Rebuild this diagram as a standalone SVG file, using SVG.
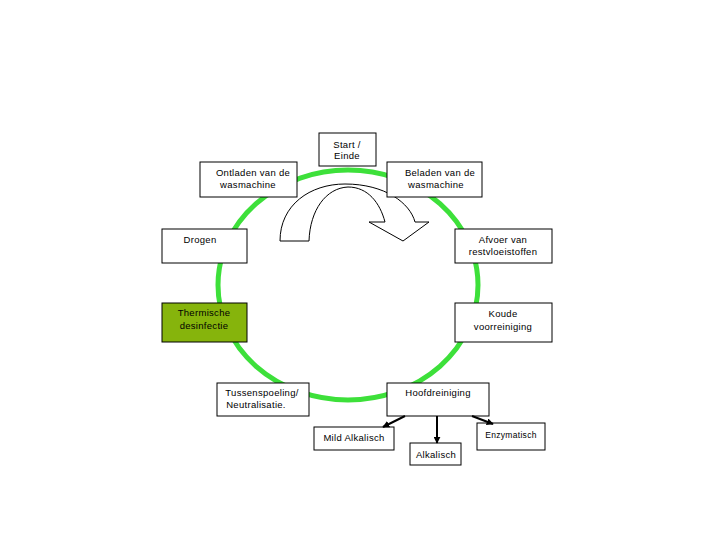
<svg xmlns="http://www.w3.org/2000/svg" width="720" height="540" viewBox="0 0 720 540">
<defs>
<style>
.box{fill:#fff;stroke:#000;stroke-width:1}
.g{fill:#86b40c}
text{font-family:"Liberation Sans",Arial,sans-serif;font-size:9.5px;fill:#000;text-anchor:middle;letter-spacing:0.3px}
.conn{stroke:#000;stroke-width:2;fill:none;marker-end:url(#ah)}
</style>
<marker id="ah" viewBox="0 0 10 10" refX="9" refY="5" markerWidth="3.5" markerHeight="3.5" orient="auto" markerUnits="strokeWidth">
<path d="M0,0 L10,5 L0,10 Z" fill="#000"/>
</marker>
</defs>
<rect width="720" height="540" fill="#fff"/>
<ellipse id="cycle" cx="348" cy="285" rx="130" ry="115" fill="none" stroke="#3de03a" stroke-width="5"/>
<g id="turn-arrow">
<path d="M280,241 C280,205 310,184 345,184 C385,184 410,203 415,222 L429,222 L403,241 L369,222 L385,222 C380,203 368,187 348,187 C326,188 310,210 309,241 Z" fill="#fff" stroke="#000" stroke-width="1"/>
</g>
<g id="start">
<rect class="box" x="319" y="133" width="57" height="33"/>
<text x="347" y="148">Start /</text>
<text x="347" y="159">Einde</text>
</g>
<g id="ontladen">
<rect class="box" x="200" y="162" width="97" height="35"/>
<text x="253" y="176">Ontladen van de</text>
<text x="248" y="188">wasmachine</text>
</g>
<g id="beladen">
<rect class="box" x="387" y="162" width="95" height="35"/>
<text x="440" y="176">Beladen van de</text>
<text x="436" y="188">wasmachine</text>
</g>
<g id="drogen">
<rect class="box" x="162" y="229" width="85" height="34"/>
<text x="200" y="243">Drogen</text>
</g>
<g id="afvoer">
<rect class="box" x="455" y="229" width="97" height="34"/>
<text x="503" y="243">Afvoer van</text>
<text x="503" y="255">restvloeistoffen</text>
</g>
<g id="thermische">
<rect class="box g" x="162" y="303" width="85" height="39"/>
<text x="204" y="316">Thermische</text>
<text x="204" y="329">desinfectie</text>
</g>
<g id="koude">
<rect class="box" x="455" y="303" width="97" height="39"/>
<text x="503" y="317">Koude</text>
<text x="503" y="330">voorreiniging</text>
</g>
<g id="tussenspoeling">
<rect class="box" x="217" y="383" width="92" height="33"/>
<text x="262" y="396">Tussenspoeling/</text>
<text x="256" y="408">Neutralisatie.</text>
</g>
<g id="hoofdreiniging">
<rect class="box" x="387" y="383" width="102" height="33"/>
<text x="438" y="396">Hoofdreiniging</text>
</g>
<g id="mild">
<rect class="box" x="314" y="427" width="80" height="23"/>
<text x="354" y="441">Mild Alkalisch</text>
</g>
<g id="alkalisch">
<rect class="box" x="410" y="443" width="51" height="22"/>
<text x="436" y="458">Alkalisch</text>
</g>
<g id="enzymatisch">
<rect class="box" x="477" y="423" width="68" height="27"/>
<text x="511" y="438" style="font-size:8.5px">Enzymatisch</text>
</g>
<g id="connectors">
<line class="conn" x1="405" y1="416" x2="383" y2="427"/>
<line class="conn" x1="437" y1="416" x2="437" y2="443"/>
<line class="conn" x1="472" y1="416" x2="493" y2="424"/>
</g>
</svg>
